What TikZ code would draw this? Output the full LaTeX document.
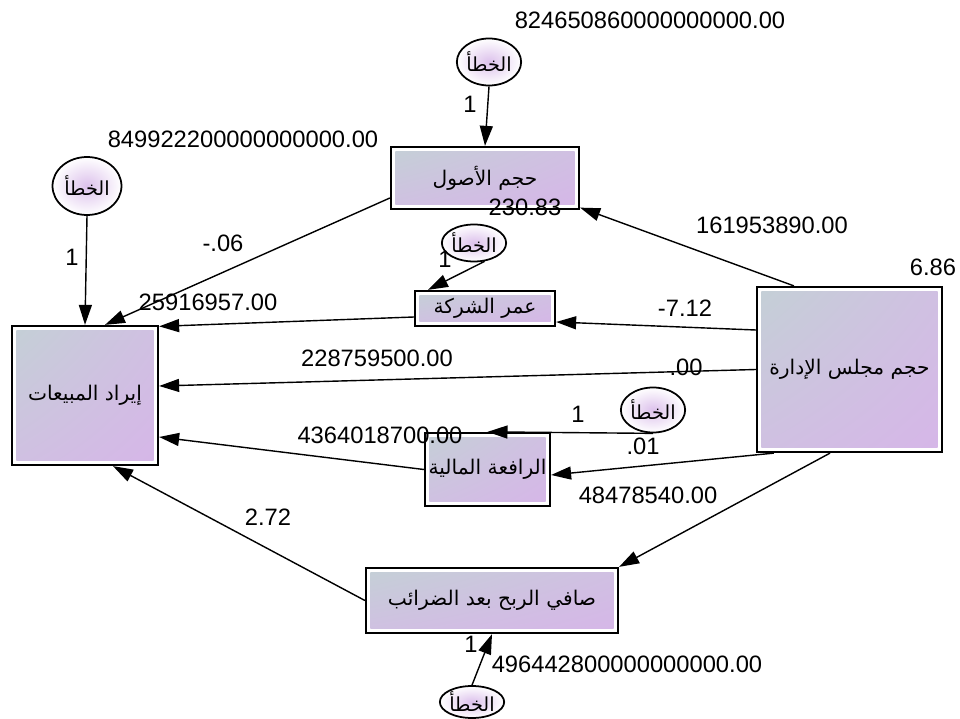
\documentclass[tikz,border=0pt]{standalone}
\usepackage{fontspec}
\setmainfont{Liberation Sans}
\newfontfamily\arabicfont[Script=Arabic]{DejaVu Sans}
\TeXXeTstate=1
\usetikzlibrary{arrows.meta,shapes.geometric,shadings}
\definecolor{boxgray}{RGB}{196,208,214}
\definecolor{boxmid}{RGB}{208,192,226}
\definecolor{boxlilac}{RGB}{214,182,232}

\begin{document}
\begin{tikzpicture}[
    x=0.02cm, y=-0.02cm,
    var/.style={draw, line width=1.3pt, fill=white, font=\arabicfont\fontsize{11.5}{13}\selectfont, inner sep=2pt,
        path picture={\shade[upper left=boxgray, upper right=boxmid, lower left=boxmid, lower right=boxlilac]
            ([shift={(2.5pt,2.5pt)}]path picture bounding box.south west) rectangle
            ([shift={(-2.5pt,-2.5pt)}]path picture bounding box.north east);}},
    err/.style={draw, ellipse, line width=1pt, inner color=boxlilac!85, outer color=white, font=\arabicfont\fontsize{11}{12}\selectfont, inner sep=0pt},
    link/.style={-{Triangle[length=0.4cm,width=0.26cm]}, line width=0.8pt},
    lbl/.style={font=\fontsize{13.5}{16}\selectfont, inner sep=0pt}
]
\useasboundingbox (0,0) rectangle (960,719);

% Variables
\node[var, minimum width=3.76cm, minimum height=1.24cm] (assets) at (485,178) {\beginR حجم الأصول\endR};
\node[var, minimum width=2.92cm, minimum height=2.78cm] (sales) at (85,395.5) {\beginR إيراد المبيعات\endR};
\node[var, minimum width=2.8cm, minimum height=0.7cm] (age) at (485,308.5) {\beginR عمر الشركة\endR};
\node[var, minimum width=3.7cm, minimum height=3.3cm] (board) at (849.5,369.5) {\beginR حجم مجلس الإدارة\endR};
\node[var, minimum width=2.38cm, minimum height=1.46cm] (lev) at (487.5,469.5) {\beginR الرافعة المالية\endR};
\node[var, minimum width=5.04cm, minimum height=1.3cm] (profit) at (492,600.5) {\beginR صافي الربح بعد الضرائب\endR};

% Error terms
\node[err, minimum width=1.28cm, minimum height=0.94cm] (e1) at (489,62) {\beginR الخطأ\endR};
\node[err, minimum width=1.38cm, minimum height=1.16cm] (e2) at (87,186) {\beginR الخطأ\endR};
\node[err, minimum width=1.16cm, minimum height=0.74cm] (e3) at (474,243) {\beginR الخطأ\endR};
\node[err, minimum width=1.16cm, minimum height=0.9cm] (e4) at (653,410) {\beginR الخطأ\endR};
\node[err, minimum width=1.22cm, minimum height=0.64cm] (e5) at (472,702) {\beginR الخطأ\endR};

% Paths
\draw[link] (e1.south) -- (assets.north);
\draw[link] (e2.south) -- (sales.north);
\draw[link] ([yshift=-0.4cm]assets.west) -- ([xshift=0.4cm]sales.north);
\draw[link] (e3.-60) -- ([xshift=-1.14cm]age.north);
\draw[link] ([yshift=0.79cm]board.west) -- ([yshift=-0.27cm]age.east);
\draw[link] ([yshift=-0.17cm]age.west) -- ([yshift=-0.03cm]sales.north east);
\draw[link] (board.west) -- ([yshift=0.19cm]sales.east);
\draw[link] (e4.south) -- (lev.north);
\draw[link] ([xshift=0.36cm]board.south west) -- ([yshift=-0.11cm]lev.east);
\draw[link] (lev.west) -- ([yshift=-0.83cm]sales.east);
\draw[link] ([xshift=-0.39cm]board.south) -- (profit.north east);
\draw[link] (profit.west) -- ([xshift=0.56cm]sales.south);
\draw[link] (e5.north) -- (profit.south);
\draw[link] ([xshift=0.76cm]board.north west) -- ([yshift=0.05cm]assets.south east);

% Estimates
\node[lbl] (l1) at (650,20) {824650860000000000.00};
\node[lbl] (l2) at (470,104) {1};
\node[lbl] (l3) at (243,139) {849922200000000000.00};
\node[lbl] (l4) at (72,257) {1};
\node[lbl] (l5) at (223,243) {-.06};
\node[lbl] (l6) at (208,302) {25916957.00};
\node[lbl] (l7) at (525,207) {230.83};
\node[lbl] (l8) at (445,259) {1};
\node[lbl] (l9) at (772,225) {161953890.00};
\node[lbl] (l10) at (685,308) {-7.12};
\node[lbl] (l11) at (933,267) {6.86};
\node[lbl] (l12) at (377,358) {228759500.00};
\node[lbl] (l13) at (686,367) {.00};
\node[lbl] (l14) at (578,414) {1};
\node[lbl] (l15) at (643,446) {.01};
\node[lbl] (l16) at (380,435) {4364018700.00};
\node[lbl] (l17) at (648,495) {48478540.00};
\node[lbl] (l18) at (268,517) {2.72};
\node[lbl] (l19) at (471,644) {1};
\node[lbl] (l20) at (627,664) {496442800000000000.00};

\end{tikzpicture}
\end{document}
